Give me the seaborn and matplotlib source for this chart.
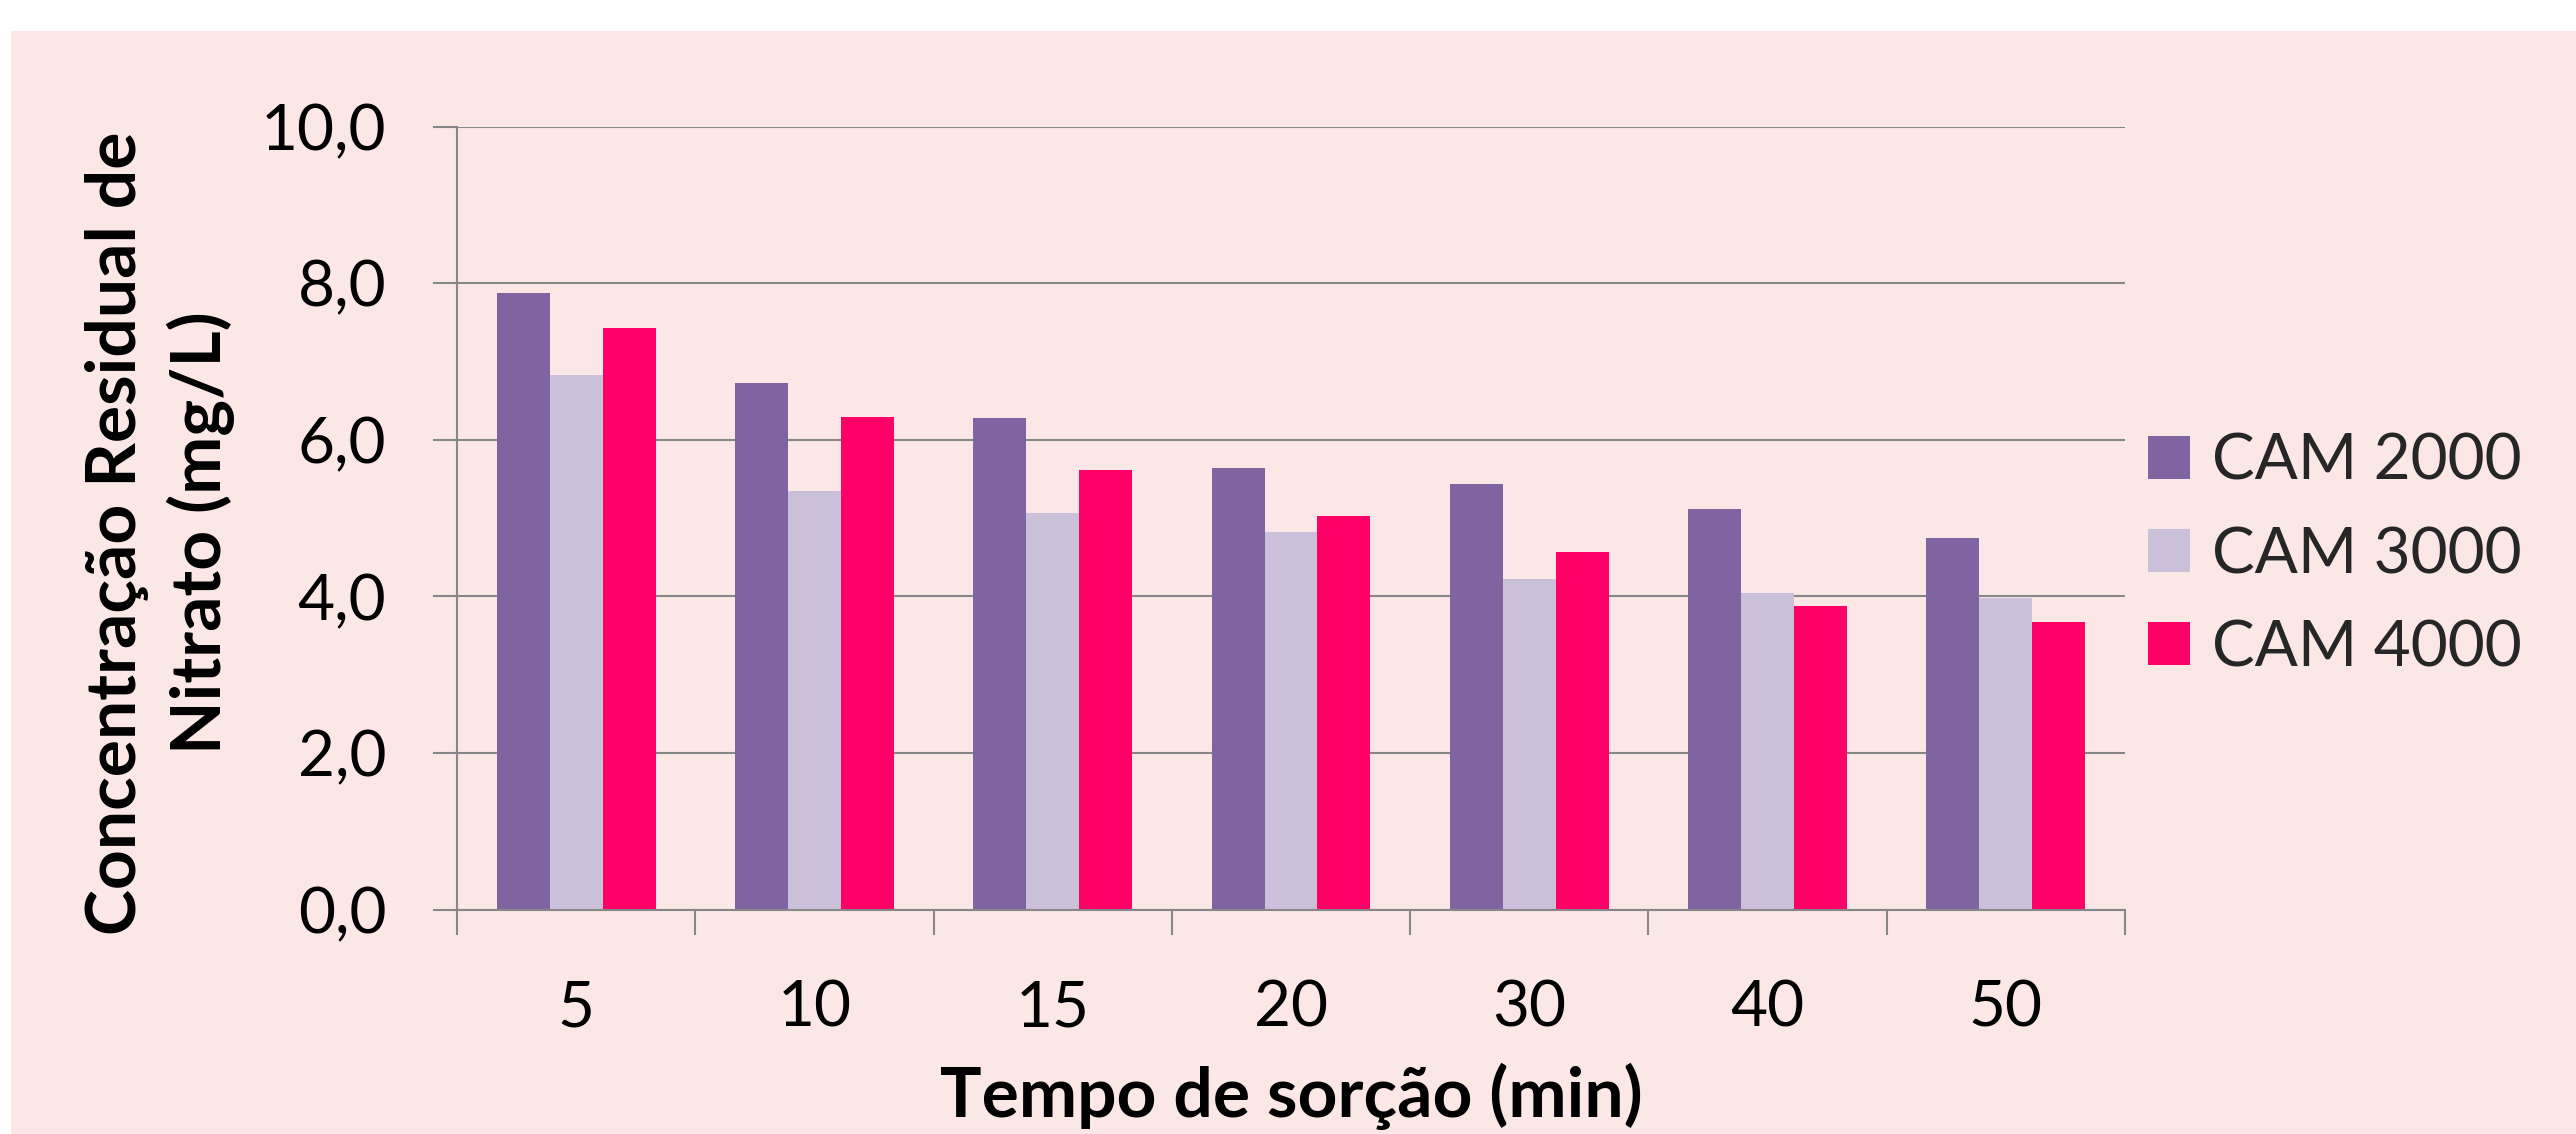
import matplotlib
matplotlib.use("Agg")
import matplotlib.pyplot as plt
from matplotlib.patches import Rectangle
from matplotlib.ticker import FixedLocator, FuncFormatter
import seaborn as sns
import pandas as pd

tempos = ["5", "10", "15", "20", "30", "40", "50"]
series_names = ["CAM 2000", "CAM 3000", "CAM 4000"]
cam2000 = [7.88, 6.72, 6.28, 5.64, 5.44, 5.12, 4.75]
cam3000 = [6.83, 5.35, 5.06, 4.82, 4.22, 4.04, 3.98]
cam4000 = [7.43, 6.29, 5.62, 5.03, 4.57, 3.88, 3.68]
colors = ["#8064A2", "#CBC0D9", "#FF0066"]
y_ticks = [0, 2, 4, 6, 8, 10]

rows = []
for name, vals in zip(series_names, [cam2000, cam3000, cam4000]):
    for t, v in zip(tempos, vals):
        rows.append({"Tempo": t, "Conc": v, "Amostra": name})
df = pd.DataFrame(rows)

sns.set_theme(style="white")
plt.rcParams["font.family"] = ["Lato", "DejaVu Sans"]

W, H = 2576, 1134
fig = plt.figure(figsize=(W / 100, H / 100), dpi=100, facecolor="white")
pink = "#FCE7E7"
fig.patches.append(Rectangle((11 / W, 0), 1, (H - 31) / H, transform=fig.transFigure,
                             facecolor=pink, edgecolor="none", zorder=-10))

ax = fig.add_axes([457 / W, 1 - 909.7 / H, (2125 - 457) / W, (909.7 - 126.6) / H])
ax.set_facecolor("none")

sns.barplot(data=df, x="Tempo", y="Conc", hue="Amostra", order=tempos,
            hue_order=series_names, palette=colors, saturation=1, width=0.667,
            linewidth=0, ax=ax, errorbar=None)

grey = "#878787"
ax.set_xlim(-0.5, len(tempos) - 0.5)
ax.set_ylim(0, 10)
ax.yaxis.set_major_locator(FixedLocator(y_ticks))
ax.yaxis.set_major_formatter(FuncFormatter(lambda v, p: f"{v:.1f}".replace(".", ",")))
ax.grid(axis="y", color=grey, linewidth=1.5, zorder=0)
ax.set_axisbelow(True)
for s in ["top", "right"]:
    ax.spines[s].set_visible(False)
for s in ["left", "bottom"]:
    ax.spines[s].set_color(grey)
    ax.spines[s].set_linewidth(1.5)

ax.xaxis.set_minor_locator(FixedLocator([i - 0.5 for i in range(len(tempos) + 1)]))
ax.tick_params(axis="x", which="major", length=0, pad=50, labelsize=46, labelcolor="black")
ax.tick_params(axis="x", which="minor", length=18, width=1.5, color=grey, direction="out", bottom=True)
ax.tick_params(axis="y", which="major", length=17, width=1.5, color=grey, direction="out",
               pad=34, labelsize=46, labelcolor="black", left=True)
ax.set_xlabel("")
ax.set_ylabel("")

fig.text(1291 / W, 1 - 1117 / H, "Tempo de sorção (min)", ha="center", va="baseline",
         fontsize=50, fontweight="bold", color="black")
fig.text(160 / W, 1 - 533 / H, "Concentração Residual de\nNitrato (mg/L)", ha="center",
         va="center", rotation=90, fontsize=50, fontweight="bold", color="black",
         linespacing=1.34, multialignment="center")

ax.legend(loc="center left", bbox_to_anchor=(2148 / W, 1 - 555 / H),
          bbox_transform=fig.transFigure, frameon=False, fontsize=46, title=None,
          handlelength=0.65, handleheight=0.65, handletextpad=0.35, labelspacing=0.55,
          borderpad=0, borderaxespad=0)

fig.savefig("out.png", dpi=100, facecolor="white")
